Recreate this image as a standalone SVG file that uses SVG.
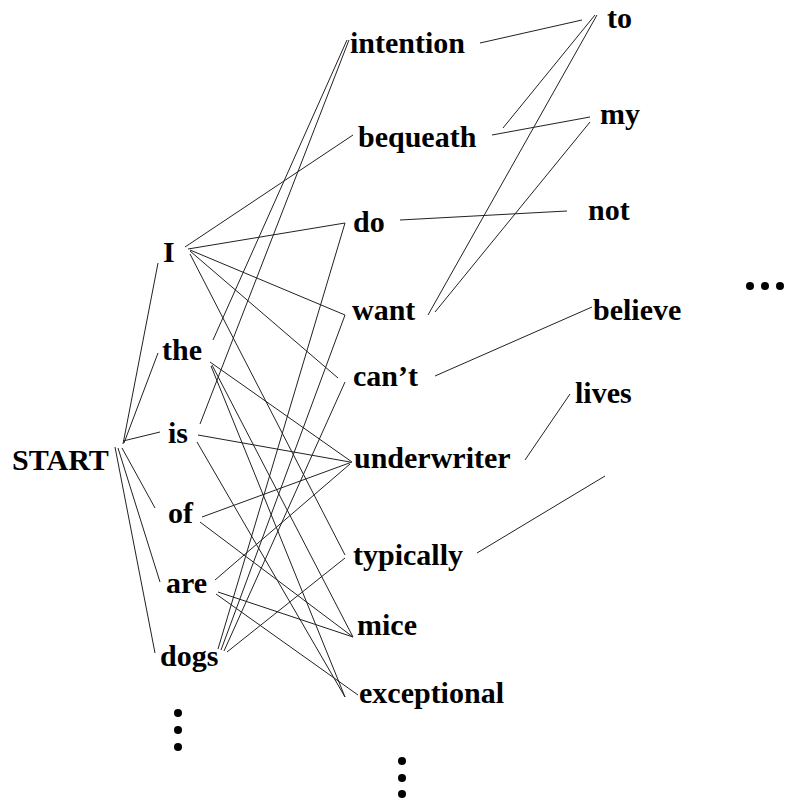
<svg xmlns="http://www.w3.org/2000/svg" width="786" height="799" viewBox="0 0 786 799">
<style>
text{font-family:"Liberation Serif","Times New Roman",serif;font-weight:bold;font-size:30px;fill:#000}
#edges line{stroke:#222;stroke-width:1}
.dot{fill:#000}
</style>
<rect width="786" height="799" fill="#fff"/>
<g id="edges">
<line x1="123" y1="444" x2="158" y2="263"/>
<line x1="124" y1="443" x2="158" y2="353"/>
<line x1="123" y1="441" x2="160" y2="432"/>
<line x1="122" y1="448" x2="155" y2="508"/>
<line x1="118" y1="448" x2="160" y2="582"/>
<line x1="115" y1="447" x2="155" y2="653"/>
<line x1="185" y1="247" x2="353" y2="135"/>
<line x1="188" y1="249" x2="345" y2="223"/>
<line x1="190" y1="250" x2="345" y2="315"/>
<line x1="190" y1="251" x2="338" y2="378"/>
<line x1="190" y1="254" x2="345" y2="555"/>
<line x1="213" y1="340" x2="347" y2="40"/>
<line x1="210" y1="362" x2="352" y2="462"/>
<line x1="212" y1="365" x2="353" y2="637"/>
<line x1="211" y1="366" x2="345" y2="697"/>
<line x1="200" y1="424" x2="349" y2="40"/>
<line x1="198" y1="435" x2="350" y2="462"/>
<line x1="197" y1="442" x2="345" y2="697"/>
<line x1="202" y1="517" x2="352" y2="462"/>
<line x1="200" y1="522" x2="353" y2="637"/>
<line x1="215" y1="580" x2="350" y2="464"/>
<line x1="218" y1="592" x2="353" y2="637"/>
<line x1="216" y1="594" x2="358" y2="695"/>
<line x1="218" y1="649" x2="345" y2="223"/>
<line x1="221" y1="650" x2="345" y2="315"/>
<line x1="224" y1="651" x2="345" y2="382"/>
<line x1="227" y1="652" x2="345" y2="558"/>
<line x1="480" y1="43" x2="582" y2="20"/>
<line x1="503" y1="128" x2="595" y2="15"/>
<line x1="492" y1="135" x2="590" y2="117"/>
<line x1="400" y1="220" x2="567" y2="211"/>
<line x1="428" y1="315" x2="597" y2="15"/>
<line x1="435" y1="312" x2="590" y2="122"/>
<line x1="435" y1="376" x2="592" y2="307"/>
<line x1="525" y1="460" x2="570" y2="394"/>
<line x1="477" y1="553" x2="605" y2="476"/>
</g>
<g id="n-start"><text x="12" y="470">START</text></g>
<g id="n-I"><text x="163" y="262">I</text></g>
<g id="n-the"><text x="162" y="360">the</text></g>
<g id="n-is"><text x="168" y="443">is</text></g>
<g id="n-of"><text x="168" y="523">of</text></g>
<g id="n-are"><text x="166" y="593">are</text></g>
<g id="n-dogs"><text x="160" y="666">dogs</text></g>
<g id="n-more1"><circle class="dot" cx="178" cy="713" r="4"/><circle class="dot" cx="178" cy="730" r="4"/><circle class="dot" cx="178" cy="747" r="4"/></g>
<g id="n-intention"><text x="350" y="53">intention</text></g>
<g id="n-bequeath"><text x="358" y="147">bequeath</text></g>
<g id="n-do"><text x="353" y="232">do</text></g>
<g id="n-want"><text x="352" y="320">want</text></g>
<g id="n-cant"><text x="353" y="386">can’t</text></g>
<g id="n-underwriter"><text x="354" y="468">underwriter</text></g>
<g id="n-typically"><text x="353" y="565">typically</text></g>
<g id="n-mice"><text x="357" y="635">mice</text></g>
<g id="n-exceptional"><text x="359" y="703">exceptional</text></g>
<g id="n-more2"><circle class="dot" cx="402" cy="761" r="4"/><circle class="dot" cx="402" cy="778" r="4"/><circle class="dot" cx="402" cy="794" r="4"/></g>
<g id="n-to"><text x="607" y="28">to</text></g>
<g id="n-my"><text x="600" y="124">my</text></g>
<g id="n-not"><text x="588" y="220">not</text></g>
<g id="n-believe"><text x="593" y="320">believe</text></g>
<g id="n-lives"><text x="575" y="403">lives</text></g>
<g id="n-more3"><circle class="dot" cx="750" cy="286" r="4"/><circle class="dot" cx="765" cy="286" r="4"/><circle class="dot" cx="780" cy="286" r="4"/></g>
</svg>
